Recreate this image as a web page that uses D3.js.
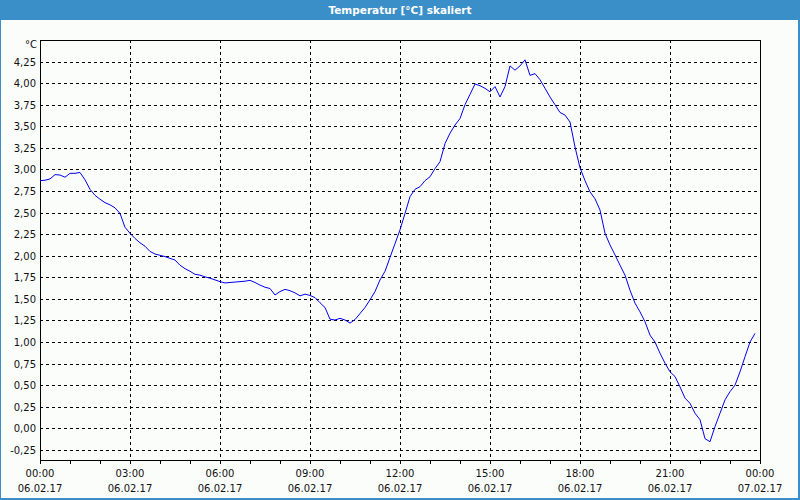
<!DOCTYPE html>
<html><head><meta charset="utf-8">
<script src="https://cdn.jsdelivr.net/npm/d3@7"></script>
<style>
html,body{margin:0;padding:0;background:#fff;}
svg{display:block;}
text{font-family:"DejaVu Sans",Verdana,sans-serif;}
</style></head>
<body>
<script>
const chartTitle = "Temperatur [°C] skaliert";
const unitLabel = "°C";
const startTime = new Date(2017, 1, 6, 0, 0);
const endTime = new Date(2017, 1, 7, 0, 0);
const stepMinutes = 10;
const yTicks = [-0.25,0,0.25,0.5,0.75,1,1.25,1.5,1.75,2,2.25,2.5,2.75,3,3.25,3.5,3.75,4,4.25];
const temps = [
2.87,2.875,2.89,2.94,2.935,2.91,2.955,2.955,2.965,2.88,
2.77,2.70,2.655,2.615,2.59,2.555,2.49,2.33,2.26,2.20,
2.15,2.11,2.05,2.02,2.005,1.99,1.97,1.95,1.89,1.85,
1.82,1.785,1.775,1.755,1.74,1.72,1.70,1.685,1.69,1.695,
1.70,1.705,1.715,1.69,1.66,1.635,1.62,1.545,1.585,1.61,
1.595,1.57,1.535,1.555,1.54,1.515,1.455,1.40,1.265,1.255,
1.275,1.255,1.22,1.26,1.33,1.40,1.49,1.585,1.72,1.82,
1.98,2.14,2.30,2.49,2.685,2.77,2.80,2.87,2.915,3.01,
3.09,3.30,3.42,3.515,3.59,3.75,3.87,3.99,3.97,3.94,
3.90,3.96,3.84,3.96,4.20,4.15,4.20,4.27,4.09,4.11,
4.04,3.94,3.84,3.75,3.66,3.63,3.55,3.26,3.02,2.87,
2.74,2.66,2.53,2.26,2.125,2.01,1.89,1.775,1.60,1.45,
1.35,1.235,1.08,1.00,0.87,0.755,0.655,0.60,0.48,0.35,
0.29,0.175,0.10,-0.12,-0.155,0.02,0.175,0.33,0.425,0.50,
0.655,0.83,1.00,1.10
];

const W = 800, H = 500;
const m = {left:40, right:40, top:40, bottom:40};
const svg = d3.select("body").append("svg").attr("width", W).attr("height", H);

// frame
svg.append("rect").attr("x",0).attr("y",0).attr("width",W).attr("height",H).attr("fill","#3a8fc8");
svg.append("rect").attr("x",1).attr("y",20).attr("width",W-3).attr("height",H-22).attr("fill","#fbfdfb");
svg.append("text").attr("x",W/2).attr("y",14).attr("text-anchor","middle")
  .attr("fill","#fff").attr("font-size","10.5px").attr("font-weight","bold").text(chartTitle);

const x = d3.scaleTime().domain([startTime, endTime]).range([m.left, W - m.right]);
const y = d3.scaleLinear().domain([-0.367, 4.5]).range([H - m.bottom, m.top]);

const data = temps.map((v,i) => ({t: d3.timeMinute.offset(startTime, i*stepMinutes), v}));

// horizontal grid
svg.append("g").selectAll("line").data(yTicks).join("line")
  .attr("x1", m.left).attr("x2", W - m.right)
  .attr("y1", d => Math.round(y(d))+0.5).attr("y2", d => Math.round(y(d))+0.5)
  .attr("stroke","#000").attr("stroke-dasharray","3,3").attr("shape-rendering","crispEdges");

// vertical grid every 3 hours
const majorTimes = d3.timeHour.every(3).range(startTime, d3.timeMinute.offset(endTime,1));
svg.append("g").selectAll("line").data(majorTimes.slice(1, -1)).join("line")
  .attr("x1", d => Math.round(x(d))+0.5).attr("x2", d => Math.round(x(d))+0.5)
  .attr("y1", m.top).attr("y2", H - m.bottom)
  .attr("stroke","#000").attr("stroke-dasharray","3,3").attr("shape-rendering","crispEdges");

// plot border box
svg.append("rect").attr("x", m.left+0.5).attr("y", m.top+0.5)
  .attr("width", W-m.left-m.right).attr("height", H-m.top-m.bottom)
  .attr("fill","none").attr("stroke","#000").attr("shape-rendering","crispEdges");

// hourly ticks below axis
const hourTimes = d3.timeHour.every(1).range(startTime, d3.timeMinute.offset(endTime,1));
svg.append("g").selectAll("line").data(hourTimes).join("line")
  .attr("x1", d => Math.round(x(d))+0.5).attr("x2", d => Math.round(x(d))+0.5)
  .attr("y1", H - m.bottom).attr("y2", H - m.bottom + 4)
  .attr("stroke","#000").attr("shape-rendering","crispEdges");

// y labels
const fmtY = v => d3.format(".2f")(v).replace(".", ",").replace("−","-");
svg.append("g").selectAll("text").data(yTicks).join("text")
  .attr("x", m.left - 4).attr("y", d => y(d) + 4).attr("text-anchor","end")
  .attr("font-size","10px").attr("fill","#111").text(fmtY);
svg.append("text").attr("x", m.left - 3).attr("y", 48).attr("text-anchor","end")
  .attr("font-size","10px").attr("fill","#111").text(unitLabel);

// x labels
const fmtT = d3.timeFormat("%H:%M"), fmtD = d3.timeFormat("%d.%m.%y");
const xl = svg.append("g").selectAll("g").data(majorTimes).join("g");
xl.append("text").attr("x", d => x(d)).attr("y", 477).attr("text-anchor","middle")
  .attr("font-size","10px").attr("fill","#111").text(fmtT);
xl.append("text").attr("x", d => x(d)).attr("y", 492).attr("text-anchor","middle")
  .attr("font-size","10px").attr("fill","#111").text(fmtD);

// line
svg.append("path").datum(data)
  .attr("fill","none").attr("stroke","#0000ee").attr("stroke-width",1)
  .attr("d", d3.line().x(d => x(d.t)).y(d => y(d.v)));
</script>
</body></html>
